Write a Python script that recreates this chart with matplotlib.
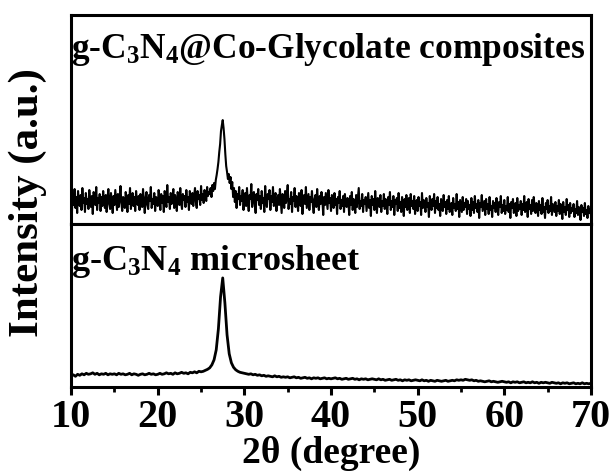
"""
    XRD patterns: g-C3N4@Co-Glycolate composites (top) and g-C3N4 microsheet (bottom)
"""

import numpy as np
import matplotlib
matplotlib.use('Agg')
from matplotlib import pyplot as plt

plt.rcParams['font.family'] = ['Liberation Serif', 'DejaVu Serif']
plt.rcParams['font.weight'] = 'bold'
plt.rcParams['axes.labelweight'] = 'bold'
plt.rcParams['mathtext.fontset'] = 'custom'
plt.rcParams['mathtext.rm'] = 'Liberation Serif:bold'
plt.rcParams['mathtext.it'] = 'Liberation Serif:bold'
plt.rcParams['mathtext.bf'] = 'Liberation Serif:bold'
plt.rcParams['mathtext.default'] = 'rm'

# composite pattern, 10-70 deg, step 0.1 deg
composite = [
    24, 13, 30, 19, 35, 16, 27, 11, 33, 22, 18, 29, 14, 36, 21, 26, 12, 31, 20, 25,
    15, 34, 23, 17, 28, 10, 32, 24, 19, 37, 14, 26, 21, 30, 13, 27, 18, 33, 22, 16,
    29, 12, 25, 35, 20, 15, 31, 23, 11, 28, 19, 34, 24, 14, 30, 17, 26, 38, 21, 13,
    27, 22, 16, 32, 25, 12, 29, 20, 36, 15, 24, 31, 18, 27, 13, 33, 23, 19, 28, 14,
    30, 21, 17, 35, 24, 11, 26, 32, 19, 15, 29, 23, 37, 16, 25, 20, 31, 13, 27, 22,
    18, 34, 26, 14, 30, 21, 28, 12, 33, 24, 17, 39, 22, 27, 15, 31, 20, 25, 35, 16,
    29, 23, 13, 32, 26, 19, 36, 21, 15, 30, 24, 28, 17, 34, 22, 27, 14, 33, 25, 20,
    31, 18, 28, 36, 22, 16, 33, 25, 29, 19, 38, 24, 30, 21, 34, 27, 23, 37, 28, 32,
    30, 36, 27, 39, 33, 41, 35, 44, 49, 55, 62, 72, 80, 93, 99, 104, 96, 85, 70, 58,
    52, 45, 50, 41, 47, 35, 42, 27, 36, 22, 33, 16, 30, 25, 37, 19, 28, 23, 34, 14,
    27, 31, 18, 36, 22, 13, 29, 25, 40, 17, 26, 32, 20, 11, 30, 24, 35, 19, 28, 15,
    33, 21, 26, 12, 38, 23, 17, 30, 25, 34, 14, 28, 22, 37, 18, 27, 31, 13, 24, 29,
    19, 35, 23, 11, 30, 26, 16, 33, 21, 28, 39, 15, 25, 20, 32, 12, 27, 23, 36, 17,
    28, 21, 13, 31, 24, 18, 34, 10, 26, 29, 20, 37, 16, 23, 30, 14, 27, 22, 33, 19,
    11, 25, 29, 17, 35, 22, 14, 28, 20, 32, 24, 9, 27, 19, 31, 23, 15, 34, 21, 26,
    13, 29, 22, 16, 31, 19, 25, 10, 27, 21, 33, 15, 24, 18, 28, 12, 30, 20, 17, 26,
    22, 9, 28, 19, 32, 14, 25, 21, 11, 29, 17, 26, 36, 15, 23, 18, 30, 12, 24, 20,
    27, 13, 22, 31, 16, 24, 8, 28, 19, 25, 14, 33, 20, 11, 26, 22, 17, 29, 12, 23,
    18, 30, 15, 25, 21, 10, 27, 19, 32, 14, 23, 17, 28, 9, 24, 20, 26, 13, 31, 16,
    22, 12, 27, 19, 8, 25, 17, 29, 14, 21, 26, 11, 30, 18, 23, 15, 28, 10, 20, 24,
    13, 27, 18, 22, 9, 31, 16, 24, 20, 12, 26, 17, 21, 7, 28, 19, 14, 25, 18, 30,
    11, 23, 16, 27, 14, 20, 8, 25, 18, 13, 29, 17, 22, 10, 24, 15, 28, 12, 19, 21,
    9, 26, 16, 20, 13, 30, 15, 22, 7, 24, 18, 12, 27, 14, 21, 17, 25, 10, 23, 15,
    19, 8, 26, 14, 22, 11, 28, 16, 20, 12, 24, 6, 21, 17, 29, 13, 18, 23, 9, 25,
    15, 20, 10, 27, 14, 18, 7, 23, 16, 21, 12, 26, 15, 9, 22, 17, 28, 11, 19, 13,
    24, 10, 18, 14, 27, 12, 20, 6, 22, 16, 25, 11, 17, 21, 8, 26, 13, 19, 15, 23,
    9, 20, 14, 28, 12, 18, 22, 7, 25, 15, 19, 10, 24, 13, 27, 16, 11, 21, 17, 8,
    23, 14, 19, 10, 26, 12, 17, 6, 21, 15, 24, 11, 18, 13, 27, 9, 20, 16, 12, 22,
    8, 18, 13, 24, 10, 20, 15, 5, 22, 12, 17, 9, 25, 14, 19, 7, 21, 11, 16, 13,
    20, 7, 15, 11, 23, 9, 17, 13, 4, 19, 12, 16, 8, 21, 10, 14, 6, 18, 11, 15,
    9,
]

# microsheet pattern, 10-70 deg, step 0.25 deg
microsheet = [
    11, 12, 10.5, 12.5, 11.5, 13, 12, 13.5, 12.5, 13, 14, 12.5, 13.5, 12, 13, 12.5, 13.5, 12, 13, 12.5,
    13, 12, 13.5, 12.5, 13, 12, 12.5, 13.5, 12, 13, 12.5, 11.5, 12.5, 13, 12, 12.5, 13.5, 12.5, 13, 12,
    12.5, 13.5, 12.5, 13, 14, 13, 13.5, 12.5, 14, 13, 13.5, 14.5, 13.5, 14, 13, 14.5, 14, 15, 14, 15.5,
    15, 15.5, 16.5, 17.5, 19, 22, 27, 37, 58, 90, 109, 84, 52, 33, 24, 19.5, 17, 15.5, 14.5, 14,
    13.5, 13, 12.5, 13, 12, 12.5, 11.5, 12, 11, 11.5, 10.5, 11, 10.5, 10, 11, 10, 10.5, 9.5, 10, 9.5,
    10, 9, 9.5, 10, 9, 9.5, 8.5, 9, 9.5, 8.5, 9, 8, 9, 8.5, 9, 8, 8.5, 9, 8, 8.5,
    8, 8.5, 9, 8, 8.5, 7.5, 8, 8.5, 7.5, 8, 8.5, 7.5, 8, 7, 8, 7.5, 8, 7, 7.5, 8,
    7.5, 7, 8, 7, 7.5, 6.5, 7, 7.5, 6.5, 7, 7.5, 6.5, 7, 6, 7, 6.5, 7, 6, 6.5, 7,
    6.5, 6, 7, 6, 6.5, 5.5, 6.5, 6, 5.5, 6.5, 6, 5.5, 6, 6.5, 5.5, 6, 6.5, 6, 7, 6.5,
    7, 6.5, 7.5, 7, 6.5, 7, 6, 6.5, 5.5, 6, 5.5, 5, 5.5, 6, 5, 5.5, 5, 4.5, 5, 5.5,
    5, 4.5, 5, 4, 5, 4.5, 5, 4, 4.5, 5, 4, 4.5, 4, 5, 4, 4.5, 3.5, 4.5, 4, 4.5,
    4, 3.5, 4.5, 4, 3.5, 4, 3, 4, 3.5, 4, 3, 3.5, 4, 3, 3.5, 3, 4, 3, 3.5, 3,
    3.5,
]

labels = [r'g-C$_3$N$_4$@Co-Glycolate composites', r'g-C$_3$N$_4$ microsheet']
xticks = [10, 20, 30, 40, 50, 60, 70]

x_top = np.linspace(10, 70, len(composite))
x_bot = np.linspace(10, 70, len(microsheet))

fig = plt.figure(figsize=(6.13, 4.77), dpi=100)
gs = fig.add_gridspec(2, 1, height_ratios=[209, 163], hspace=0,
                      left=0.116, right=0.964, top=0.966, bottom=0.187)
ax1 = fig.add_subplot(gs[0])
ax2 = fig.add_subplot(gs[1], sharex=ax1)

ax1.plot(x_top, composite, color='black', lw=1.5)
ax2.plot(x_bot, microsheet, color='black', lw=2.0)

ax1.set_ylim(0, 209)
ax2.set_ylim(0, 163)
ax2.set_xlim(10, 70)

for ax in (ax1, ax2):
    for sp in ax.spines.values():
        sp.set_linewidth(2.2)
    ax.set_yticks([])

ax1.tick_params(axis='x', which='both', bottom=False, labelbottom=False)
ax2.set_xticks(xticks)
ax2.set_xticks([15, 25, 35, 45, 55, 65], minor=True)
ax2.tick_params(axis='x', which='major', direction='out', length=6, width=2.2,
                labelsize=29, pad=2)
ax2.tick_params(axis='x', which='minor', direction='out', length=3.5, width=2.0)

ax1.text(0.0, 0.80, labels[0], transform=ax1.transAxes, fontsize=25.5,
         ha='left', va='baseline')
ax2.text(0.0, 0.724, labels[1], transform=ax2.transAxes, fontsize=26,
         ha='left', va='baseline')

ax2.set_xlabel('2θ (degree)', fontsize=27, fontweight='bold', labelpad=0)
fig.text(0.046, 0.576, 'Intensity (a.u.)', rotation=90, fontsize=31,
         ha='center', va='center')

fig.savefig('out.png', dpi=100)
